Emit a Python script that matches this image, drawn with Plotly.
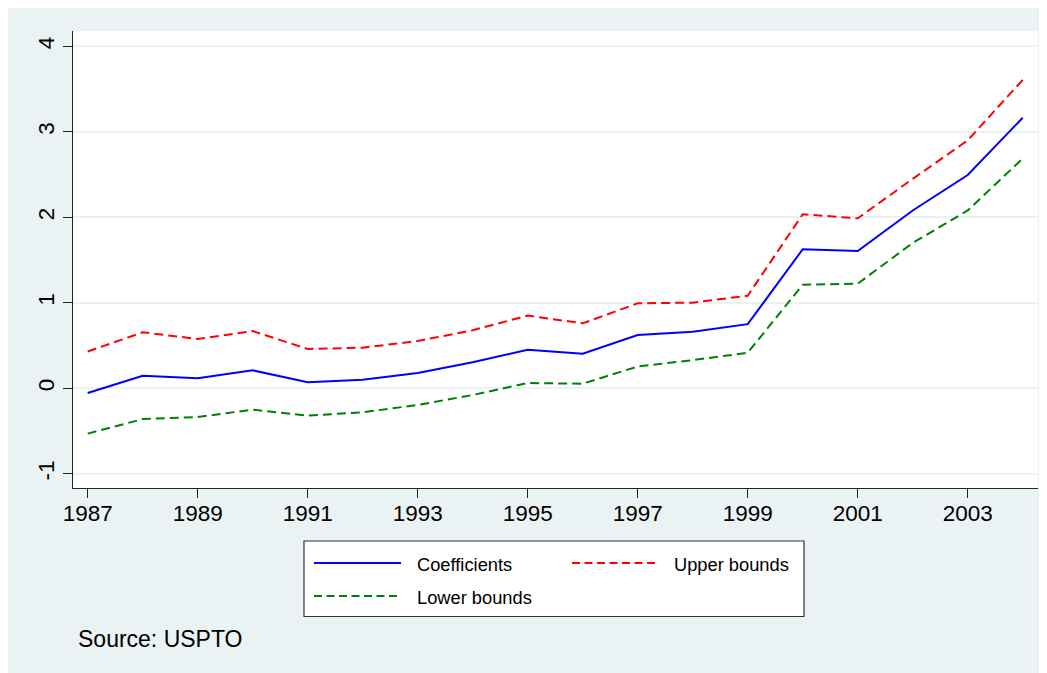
import plotly.graph_objects as go

years = list(range(1987, 2005))
coefficients = [-0.055, 0.147, 0.117, 0.21, 0.07, 0.10, 0.179, 0.304, 0.452, 0.405,
                0.623, 0.662, 0.750, 1.626, 1.606, 2.08, 2.495, 3.165]
upper_bounds = [0.43, 0.655, 0.577, 0.67, 0.46, 0.475, 0.553, 0.68, 0.85, 0.76,
                0.994, 1.002, 1.083, 2.035, 1.988, 2.45, 2.90, 3.608]
lower_bounds = [-0.53, -0.36, -0.336, -0.25, -0.32, -0.28, -0.195, -0.078, 0.062, 0.054,
                0.255, 0.330, 0.415, 1.212, 1.223, 1.70, 2.08, 2.688]
x_ticks = [1987, 1989, 1991, 1993, 1995, 1997, 1999, 2001, 2003]
y_ticks = [-1, 0, 1, 2, 3, 4]
series_names = ["Coefficients", "Upper bounds", "Lower bounds"]

OFF = 8  # page body margin
W, H = 1047 - OFF, 673 - OFF
L, R, T, B = 73 - OFF, 1038 - OFF, 31 - OFF, 488 - OFF
FONT = "Liberation Sans, Arial, Helvetica, sans-serif"
BG = "#EAF2F3"

def px(xp):
    return (xp - OFF - L) / (R - L)

def py(yp):
    return (B - (yp - OFF)) / (B - T)

fig = go.Figure()
fig.add_trace(go.Scatter(x=years, y=coefficients, mode="lines", name=series_names[0],
                         line=dict(color="#0000FF", width=2)))
fig.add_trace(go.Scatter(x=years, y=upper_bounds, mode="lines", name=series_names[1],
                         line=dict(color="#FF0000", width=2, dash="9px,5px")))
fig.add_trace(go.Scatter(x=years, y=lower_bounds, mode="lines", name=series_names[2],
                         line=dict(color="#008000", width=2, dash="9px,5px")))

shapes = [
    dict(type="rect", xref="paper", yref="paper", x0=px(304), x1=px(804), y0=py(616.5), y1=py(541),
         fillcolor="white", line=dict(color="#333333", width=1.2), layer="above"),
    dict(type="line", xref="paper", yref="paper", x0=px(314), x1=px(401), y0=py(563), y1=py(563),
         line=dict(color="#0000FF", width=2)),
    dict(type="line", xref="paper", yref="paper", x0=px(572), x1=px(658), y0=py(563), y1=py(563),
         line=dict(color="#FF0000", width=2, dash="8px,4.5px")),
    dict(type="line", xref="paper", yref="paper", x0=px(314), x1=px(401), y0=py(596), y1=py(596),
         line=dict(color="#008000", width=2, dash="8px,4.5px")),
]

annotations = [
    dict(text=series_names[0], xref="paper", yref="paper", x=px(415), y=py(564),
         xanchor="left", yanchor="middle", showarrow=False, font=dict(size=18.3, color="black", family=FONT)),
    dict(text=series_names[1], xref="paper", yref="paper", x=px(672), y=py(564),
         xanchor="left", yanchor="middle", showarrow=False, font=dict(size=18.3, color="black", family=FONT)),
    dict(text=series_names[2], xref="paper", yref="paper", x=px(415), y=py(597),
         xanchor="left", yanchor="middle", showarrow=False, font=dict(size=18.3, color="black", family=FONT)),
    dict(text="Source: USPTO", xref="paper", yref="paper", x=px(76), y=py(639),
         xanchor="left", yanchor="middle", showarrow=False, font=dict(size=23, color="black", family=FONT)),
]

fig.update_layout(
    width=W, height=H,
    margin=dict(l=L, r=W - R, t=T, b=H - B, pad=0),
    paper_bgcolor=BG,
    plot_bgcolor="white",
    showlegend=False,
    font=dict(family=FONT, color="black", size=22),
    shapes=shapes,
    annotations=annotations,
    xaxis=dict(range=[1986.733, 2004.278], tickvals=x_ticks, ticktext=[str(v) for v in x_ticks],
               showgrid=False, zeroline=False, showline=True, linecolor="#222222", linewidth=1.2,
               ticks="outside", ticklen=9, tickcolor="#222222", tickwidth=1.2, ticklabelstandoff=-4,
               tickfont=dict(size=22.5, family=FONT, color="black"), mirror=False),
    yaxis=dict(range=[-1.166, 4.179], tickvals=y_ticks, ticktext=[str(v) for v in y_ticks],
               showgrid=True, gridcolor=BG, gridwidth=1.5, zeroline=False,
               showline=True, linecolor="#222222", linewidth=1.2,
               ticks="outside", ticklen=9, tickcolor="#222222", tickwidth=1.2, tickangle=-90,
               tickfont=dict(size=22.5, family=FONT, color="black")),
)

fig.write_html("out.html")
